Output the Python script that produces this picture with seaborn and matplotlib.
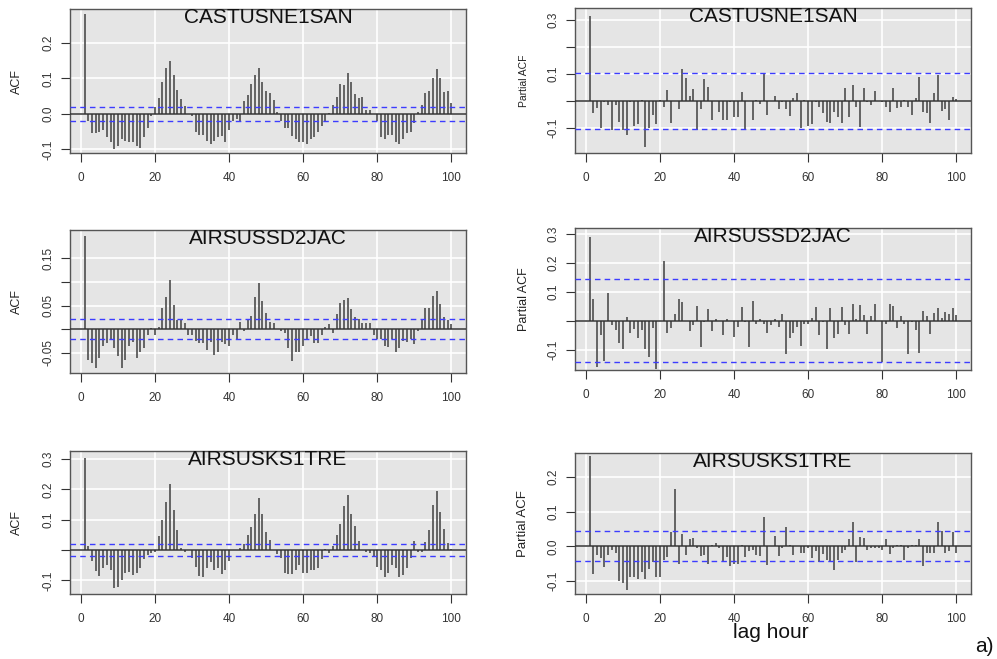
import numpy as np
import pandas as pd
import matplotlib
matplotlib.use("Agg")
import matplotlib.pyplot as plt
import seaborn as sns

# ---------------- data ----------------
lags = list(range(1, 101))
titles = ["CASTUSNE1SAN", "AIRSUSSD2JAC", "AIRSUSKS1TRE"]
x_ticks = [0, 20, 40, 60, 80, 100]

acf_castusne1san = [
    0.28, -0.02, -0.055, -0.055, -0.05, -0.045, -0.065, -0.08, -0.1, -0.09,
    -0.07, -0.075, -0.08, -0.08, -0.09, -0.095, -0.065, -0.04, -0.005, 0.02,
    0.045, 0.09, 0.128, 0.15, 0.11, 0.068, 0.042, 0.022, 0.0, -0.005,
    -0.05, -0.06, -0.06, -0.075, -0.085, -0.075, -0.065, -0.062, -0.08, -0.045,
    -0.02, -0.015, -0.02, 0.035, 0.052, 0.085, 0.11, 0.13, 0.09, 0.065,
    0.058, 0.038, 0.005, -0.02, -0.04, -0.04, -0.062, -0.07, -0.08, -0.08,
    -0.085, -0.072, -0.065, -0.05, -0.035, -0.02, 0.003, 0.025, 0.048, 0.085,
    0.08, 0.115, 0.09, 0.055, 0.045, 0.047, 0.012, 0.01, 0.0, -0.02,
    -0.065, -0.07, -0.06, -0.06, -0.08, -0.085, -0.07, -0.055, -0.05, -0.025,
    0.005, 0.025, 0.058, 0.065, 0.1, 0.125, 0.1, 0.062, 0.065, 0.03]

pacf_castusne1san = [
    0.315, -0.045, -0.025, -0.10, -0.005, -0.015, -0.105, -0.015, -0.075, -0.105,
    -0.125, -0.005, -0.09, -0.085, 0.005, -0.17, -0.10, -0.05, -0.085, 0.005,
    -0.02, 0.04, -0.08, 0.0, -0.03, 0.12, 0.085, 0.02, 0.045, -0.108,
    -0.03, 0.08, 0.053, -0.07, 0.002, -0.04, -0.07, -0.07, -0.005, -0.06,
    -0.06, 0.035, -0.105, 0.002, -0.07, 0.005, -0.01, 0.105, -0.05, 0.0,
    0.02, -0.03, -0.005, -0.03, -0.055, 0.01, 0.03, -0.1, 0.005, -0.09,
    -0.085, -0.003, -0.02, -0.045, -0.075, -0.08, -0.04, -0.06, -0.08, 0.05,
    -0.06, 0.06, -0.02, -0.095, 0.05, -0.005, -0.015, 0.038, 0.0, -0.005,
    -0.02, -0.04, 0.05, -0.025, -0.02, 0.005, -0.02, -0.05, 0.01, 0.09,
    -0.04, -0.045, -0.08, 0.03, 0.095, -0.035, -0.03, -0.07, 0.015, 0.008]

acf_airsussd2jac = [
    0.198, -0.065, -0.072, -0.083, -0.062, -0.035, -0.03, -0.022, -0.04, -0.058,
    -0.082, -0.065, -0.035, -0.028, -0.062, -0.048, -0.04, -0.012, 0.002, -0.012,
    0.005, 0.045, 0.068, 0.103, 0.052, 0.02, 0.022, 0.012, -0.012, -0.012,
    -0.025, -0.03, -0.03, -0.045, -0.028, -0.055, -0.048, -0.028, -0.032, -0.035,
    -0.012, -0.02, 0.015, -0.003, 0.022, 0.028, 0.068, 0.097, 0.06, 0.035,
    0.015, 0.013, 0.0, -0.003, -0.008, -0.04, -0.068, -0.048, -0.048, -0.035,
    -0.02, -0.015, -0.03, -0.03, -0.012, 0.005, 0.01, -0.008, 0.032, 0.055,
    0.062, 0.065, 0.042, 0.025, 0.022, 0.012, 0.013, 0.013, -0.012, -0.022,
    -0.022, -0.035, -0.038, -0.02, -0.048, -0.04, -0.025, -0.028, -0.022, -0.032,
    -0.005, 0.022, 0.045, 0.045, 0.07, 0.08, 0.053, 0.025, 0.02, 0.01]

pacf_airsussd2jac = [
    0.29, 0.075, -0.16, -0.048, -0.137, 0.095, -0.015, -0.03, -0.075, -0.095,
    0.015, -0.04, -0.028, -0.058, -0.03, -0.095, -0.125, -0.025, -0.165, 0.0,
    0.205, -0.04, -0.025, 0.025, 0.075, 0.065, 0.0, -0.035, -0.015, 0.053,
    -0.09, -0.005, 0.04, -0.035, 0.008, 0.0, -0.05, 0.005, 0.0, -0.055,
    -0.02, 0.048, -0.003, -0.09, 0.07, -0.01, 0.005, -0.01, -0.04, -0.015,
    0.008, -0.02, 0.025, -0.115, -0.06, -0.04, -0.02, -0.085, -0.01, -0.01,
    0.01, 0.047, -0.05, -0.005, -0.098, 0.045, -0.06, -0.045, 0.048, -0.015,
    -0.045, 0.06, 0.005, 0.055, 0.022, -0.045, 0.018, 0.058, 0.0, -0.14,
    -0.01, 0.058, 0.05, -0.025, 0.018, -0.01, -0.115, -0.003, -0.03, -0.11,
    0.035, 0.018, -0.045, 0.028, 0.045, 0.01, 0.03, 0.025, 0.043, 0.02]

acf_airsusks1tre = [
    0.305, 0.012, -0.035, -0.068, -0.085, -0.06, -0.048, -0.065, -0.125, -0.122,
    -0.1, -0.075, -0.072, -0.082, -0.075, -0.06, -0.03, -0.015, -0.01, -0.005,
    0.045, 0.098, 0.16, 0.218, 0.133, 0.065, 0.008, -0.008, 0.0, -0.025,
    -0.055, -0.085, -0.09, -0.06, -0.04, -0.065, -0.06, -0.08, -0.065, -0.035,
    0.0, 0.0, 0.008, 0.02, 0.05, 0.075, 0.118, 0.172, 0.118, 0.058,
    0.033, 0.0, -0.012, -0.025, -0.075, -0.078, -0.078, -0.065, -0.05, -0.075,
    -0.075, -0.065, -0.065, -0.06, -0.03, 0.003, -0.01, 0.015, 0.05, 0.087,
    0.145, 0.183, 0.118, 0.078, 0.03, 0.0, -0.005, -0.01, -0.02, -0.055,
    -0.065, -0.088, -0.075, -0.048, -0.06, -0.088, -0.083, -0.06, -0.025, 0.03,
    -0.005, -0.005, 0.028, 0.065, 0.15, 0.195, 0.125, 0.07, 0.022, 0.002]

pacf_airsusks1tre = [
    0.261, -0.08, -0.025, -0.035, -0.06, -0.025, -0.01, -0.02, -0.1, -0.105,
    -0.125, -0.09, -0.09, -0.095, -0.075, -0.095, -0.065, -0.045, -0.09, -0.088,
    -0.04, -0.03, 0.04, 0.165, -0.05, 0.035, -0.025, 0.02, 0.025, -0.005,
    -0.028, -0.025, -0.052, 0.005, 0.01, -0.005, -0.045, -0.03, -0.058, -0.05,
    -0.05, 0.005, -0.03, -0.015, -0.01, -0.025, -0.028, 0.085, -0.055, 0.002,
    0.03, -0.027, -0.005, 0.055, 0.005, -0.025, 0.0, -0.018, -0.02, -0.005,
    -0.035, -0.015, -0.045, -0.022, -0.04, -0.045, -0.068, -0.04, -0.02, -0.01,
    0.022, 0.07, -0.045, 0.028, 0.025, -0.012, -0.005, -0.005, -0.005, -0.012,
    0.022, -0.022, -0.005, 0.005, 0.005, -0.04, -0.005, 0.003, 0.005, 0.022,
    -0.058, -0.02, -0.02, -0.02, 0.07, 0.045, -0.02, -0.015, 0.04, -0.018]

conf_acf = [0.02, 0.022, 0.02]
conf_pacf = [0.103, 0.143, 0.043]

acf_yticks = [[-0.1, 0.0, 0.1, 0.2],
              [-0.05, 0.0, 0.05, 0.10, 0.15],
              [-0.1, 0.0, 0.1, 0.2, 0.3]]
acf_ylabels = [["-0.1", "0.0", "0.1", "0.2"],
               ["-0.05", "", "0.05", "", "0.15"],
               ["-0.1", "", "0.1", "0.2", "0.3"]]
pacf_yticks = [[-0.1, 0.0, 0.1, 0.2, 0.3],
               [-0.1, 0.0, 0.1, 0.2, 0.3],
               [-0.1, 0.0, 0.1, 0.2]]
pacf_ylabels = [["-0.1", "", "0.1", "", "0.3"],
                ["-0.1", "", "0.1", "0.2", "0.3"],
                ["-0.1", "0.0", "0.1", "0.2"]]

acf_series = [acf_castusne1san, acf_airsussd2jac, acf_airsusks1tre]
pacf_series = [pacf_castusne1san, pacf_airsussd2jac, pacf_airsusks1tre]

# ---------------- style ----------------
sns.set_theme(style="darkgrid", rc={
    "axes.facecolor": "#E5E5E5",
    "axes.edgecolor": "#555555",
    "axes.linewidth": 1.0,
    "grid.color": "white",
    "grid.linewidth": 1.2,
    "xtick.color": "#333333",
    "ytick.color": "#333333",
    "figure.facecolor": "white",
})
plt.rcParams["font.family"] = ["Liberation Sans", "DejaVu Sans"]

W, H = 997, 659
fig = plt.figure(figsize=(W / 100, H / 100), dpi=100)


def rect(x0, y0, x1, y1):
    return [x0 / W, 1 - y1 / H, (x1 - x0) / W, (y1 - y0) / H]


panels = [
    # (box px, ylim, series, conf, yticks, ylabels, ylabel text, ylabel size, ylabel x)
    ((70, 9, 466, 153), (-0.11, 0.295), acf_series[0], conf_acf[0], acf_yticks[0], acf_ylabels[0], "ACF", 9, 17, titles[0]),
    ((575, 8, 971, 153), (-0.191, 0.343), pacf_series[0], conf_pacf[0], pacf_yticks[0], pacf_ylabels[0], "Partial ACF", 7.5, 524, titles[0]),
    ((70, 230, 466, 373), (-0.093, 0.21), acf_series[1], conf_acf[1], acf_yticks[1], acf_ylabels[1], "ACF", 9, 17, titles[1]),
    ((575, 228, 971, 370), (-0.169, 0.32), pacf_series[1], conf_pacf[1], pacf_yticks[1], pacf_ylabels[1], "Partial ACF", 9, 524, titles[1]),
    ((70, 451, 466, 594), (-0.145, 0.327), acf_series[2], conf_acf[2], acf_yticks[2], acf_ylabels[2], "ACF", 9, 17, titles[2]),
    ((575, 453, 971, 594), (-0.138, 0.27), pacf_series[2], conf_pacf[2], pacf_yticks[2], pacf_ylabels[2], "Partial ACF", 9.5, 523, titles[2]),
]

for box, ylim, vals, conf, yt, ylab, ylabel, ylsize, ylx, title in panels:
    ax = fig.add_axes(rect(*box))
    df = pd.DataFrame({"lag": lags, "value": vals})
    ax.vlines(df["lag"], 0, df["value"], color="#4D4D4D", linewidth=1.2, zorder=3)
    ax.axhline(0, color="#333333", linewidth=1.1, zorder=4)
    for s in (1, -1):
        ax.axhline(s * conf, color="#3C3CFF", linewidth=1.0,
                   linestyle=(0, (4, 3)), zorder=4)
    ax.set_xlim(-2.96, 103.96)
    ax.set_ylim(*ylim)
    ax.set_xticks(x_ticks)
    ax.set_xticklabels([str(t) for t in x_ticks])
    ax.set_yticks(yt)
    ax.set_yticklabels(ylab, rotation=90, va="center")
    ax.tick_params(axis="x", direction="out", length=6.5, width=0.8,
                   labelsize=8.5, pad=7, bottom=True)
    ax.tick_params(axis="y", direction="out", length=6.5, width=0.8,
                   labelsize=8.5, pad=5, left=True)
    ax.grid(True, zorder=0)
    ax.set_axisbelow(True)
    ax.text(0.5, 1 - 14 / (box[3] - box[1]), title, transform=ax.transAxes,
            ha="center", va="baseline", fontsize=15, color="#111111", zorder=5)
    cy = (box[1] + box[3]) / 2
    fig.text(ylx / W, 1 - cy / H, ylabel, rotation=90, ha="center",
             va="center", fontsize=ylsize, color="#222222")

fig.text(771 / W, 1 - 638 / H, "lag hour", ha="center", va="baseline",
         fontsize=15, color="#111111")
fig.text(984 / W, 1 - 646 / H, "a)", ha="center", va="center",
         fontsize=15, color="#111111")

fig.savefig("out.png", dpi=100)
